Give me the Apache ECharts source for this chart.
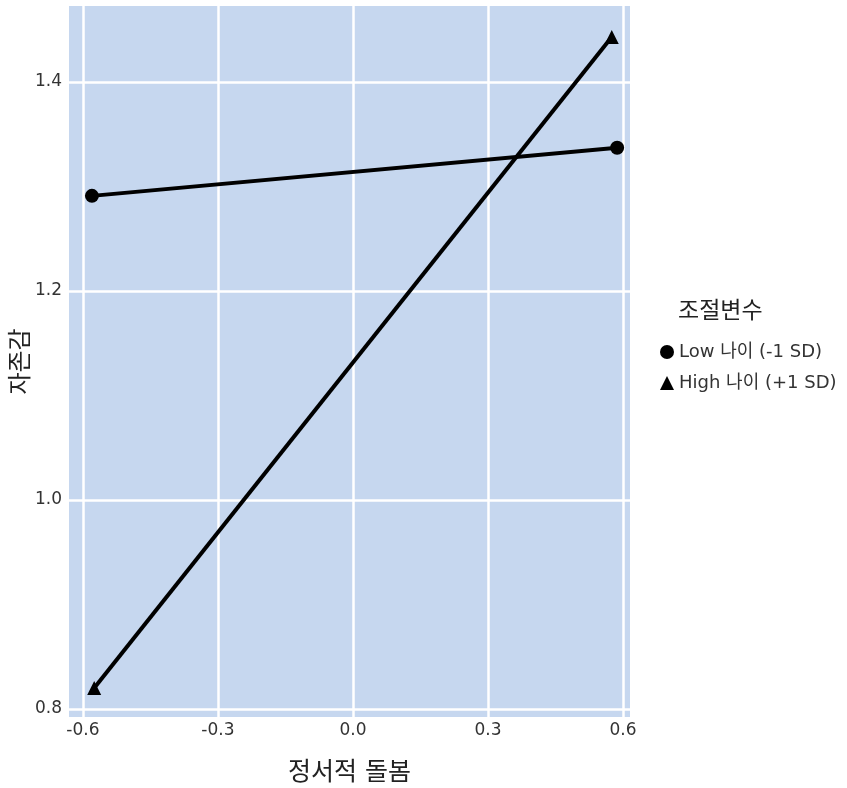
<!DOCTYPE html>
<html>
<head>
<meta charset="utf-8">
<script src="https://cdn.jsdelivr.net/npm/echarts@6/dist/echarts.min.js"></script>
<style>
  html, body { margin: 0; padding: 0; background: #ffffff; }
  #chart { width: 847px; height: 788px; }
</style>
</head>
<body>
<div id="chart"></div>
<script>
// 정서적 돌봄 × 나이 상호작용: 단순 기울기
const xTicks = [-0.6, -0.3, 0.0, 0.3, 0.6];
const yTicks = [0.8, 1.0, 1.2, 1.4];

const lowName = 'Low 나이 (-1 SD)';
const lowX = [-0.58, 0.587];
const lowY = [1.291, 1.337];

const highName = 'High 나이 (+1 SD)';
const highX = [-0.575, 0.575];
const highY = [0.82, 1.443];

const legendTitle = '조절변수';
const xTitle = '정서적 돌봄';
const yTitle = '자존감';

const pairs = (xs, ys) => xs.map((x, i) => [x, ys[i]]);
const fontFam = '"DejaVu Sans", "Noto Sans CJK KR", sans-serif';

const chart = echarts.init(document.getElementById('chart'));
chart.setOption({
  animation: false,
  backgroundColor: '#ffffff',
  title: {
    text: legendTitle,
    left: 673,
    top: 296,
    textStyle: { fontFamily: fontFam, fontSize: 23, fontWeight: 'normal', color: '#222' }
  },
  legend: {
    orient: 'vertical',
    left: 655,
    top: 338,
    itemGap: 13,
    itemWidth: 14,
    itemHeight: 14,
    textStyle: { fontFamily: fontFam, fontSize: 18, color: '#333' },
    data: [
      { name: lowName, icon: 'circle' },
      { name: highName, icon: 'triangle' }
    ]
  },
  grid: {
    left: 69, right: 217, top: 6, bottom: 71,
    outerBoundsMode: 'none',
    containLabel: false,
    show: true,
    backgroundColor: '#c6d7ef',
    borderWidth: 0
  },
  xAxis: {
    type: 'value',
    min: -0.631,
    max: 0.6156,
    name: xTitle,
    nameLocation: 'middle',
    nameGap: 44,
    nameMoveOverlap: false,
    nameTextStyle: { fontFamily: fontFam, fontSize: 25, color: '#222' },
    axisLine: { show: false },
    axisTick: { show: false, customValues: xTicks },
    axisLabel: {
      customValues: xTicks,
      formatter: v => v.toFixed(1),
      fontFamily: fontFam, fontSize: 17, color: '#333', margin: 5
    },
    splitLine: { show: true, lineStyle: { color: '#ffffff', width: 2.5 } }
  },
  yAxis: {
    type: 'value',
    min: 0.7923,
    max: 1.4727,
    name: yTitle,
    nameLocation: 'middle',
    nameGap: 35,
    nameMoveOverlap: false,
    nameRotate: 90,
    nameTextStyle: { fontFamily: fontFam, fontSize: 24, color: '#222' },
    axisLine: { show: false },
    axisTick: { show: false, customValues: yTicks },
    axisLabel: {
      customValues: yTicks,
      formatter: v => v.toFixed(1),
      fontFamily: fontFam, fontSize: 17, color: '#333', margin: 7
    },
    splitLine: { show: true, lineStyle: { color: '#ffffff', width: 2.5 } }
  },
  series: [
    {
      name: lowName,
      type: 'line',
      data: pairs(lowX, lowY),
      symbol: 'circle',
      symbolSize: 14,
      lineStyle: { color: '#000', width: 4 },
      itemStyle: { color: '#000' }
    },
    {
      name: highName,
      type: 'line',
      data: pairs(highX, highY),
      symbol: 'triangle',
      symbolSize: 14,
      lineStyle: { color: '#000', width: 4 },
      itemStyle: { color: '#000' }
    }
  ]
});
</script>
</body>
</html>
